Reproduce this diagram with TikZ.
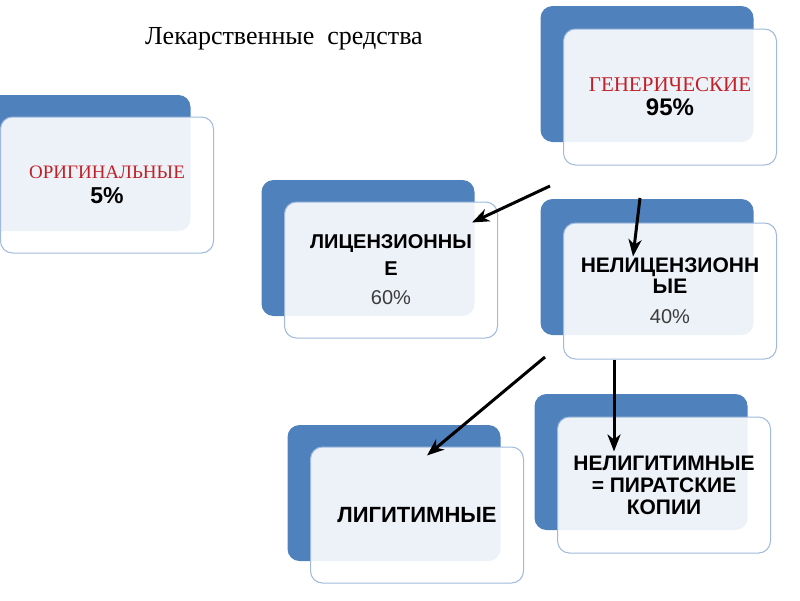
\documentclass[tikz,border=0pt]{standalone}
\usepackage{fontspec}
\setmainfont{Liberation Serif}
\setsansfont{Liberation Sans}
\usepackage{tikz}
\usetikzlibrary{arrows.meta}
\definecolor{cardblue}{RGB}{79,129,189}
\definecolor{cardline}{RGB}{160,186,220}
\definecolor{cardred}{RGB}{192,32,40}
\definecolor{pctgray}{RGB}{60,60,60}

\begin{document}
\begin{tikzpicture}[x=1pt,y=-1pt,
  back/.style={fill=cardblue,rounded corners=12pt,minimum width=213pt,minimum height=136pt,inner sep=0pt},
  card/.style={draw=cardline,line width=1pt,fill=white,fill opacity=0.9,text opacity=1,
    rounded corners=12pt,minimum width=213pt,minimum height=136pt,inner sep=0pt,align=center,
    font=\sffamily\bfseries\fontsize{20}{23}\selectfont},
  arr/.style={-{Stealth[length=17pt,width=13pt,inset=5pt]},line width=3pt}]
  \useasboundingbox (0,0) rectangle (800,600);
  \node (title) at (284,39) {\fontsize{26}{30}\selectfont Лекарственные\ \ средства};
  % back cards
  \node[back] (ob) at (84,163) {};
  \node[back] (gb) at (647,74) {};
  \node[back] (lb) at (368,248) {};
  \node[back] (nb) at (647,267) {};
  \node[back] (vb) at (394,493) {};
  \node[back] (pb) at (641,462) {};
  % front cards
  \node[card,font=\sffamily\bfseries\fontsize{23}{25}\selectfont] (orig) at (107,185)
    {\textcolor{cardred}{\rmfamily\mdseries\fontsize{19}{25}\selectfont ОРИГИНАЛЬНЫЕ}\\5\%};
  \node[card,font=\sffamily\bfseries\fontsize{24}{24}\selectfont] (gen) at (670,97)
    {\textcolor{cardred}{\rmfamily\mdseries\fontsize{21}{24}\selectfont ГЕНЕРИЧЕСКИЕ}\\95\%};
  \node[card,font=\sffamily\bfseries\fontsize{20}{27}\selectfont] (lic) at (391,270)
    {ЛИЦЕНЗИОННЫ\\Е\\[2pt]\textcolor{pctgray}{\mdseries 60\%}};
  \node[card,font=\sffamily\bfseries\fontsize{21}{21}\selectfont] (nelic) at (670,291)
    {НЕЛИЦЕНЗИОНН\\ЫЕ\\[9pt]\textcolor{pctgray}{\mdseries\fontsize{20}{21}\selectfont 40\%}};
  \node[card,font=\sffamily\bfseries\fontsize{22}{24}\selectfont] (legit) at (417,515) {ЛИГИТИМНЫЕ};
  \node[card,font=\sffamily\bfseries\fontsize{21}{22}\selectfont] (pirate) at (664,485)
    {НЕЛИГИТИМНЫЕ\\= ПИРАТСКИЕ\\КОПИИ};
  % arrows
  \coordinate (g1) at (550,186);
  \coordinate (g2) at (640,198);
  \coordinate (n1) at (545,357);
  \draw[arr] (g1) -- ([shift={(-26,21)}]lic.north east);
  \draw[arr] (g2) -- ([shift={(-37,34)}]nelic.north);
  \draw[arr] (n1) -- ([shift={(10,9)}]legit.north);
  \draw[arr] ([xshift=-56pt]nelic.south) -- ([shift={(-50,35)}]pirate.north);
\end{tikzpicture}
\end{document}
